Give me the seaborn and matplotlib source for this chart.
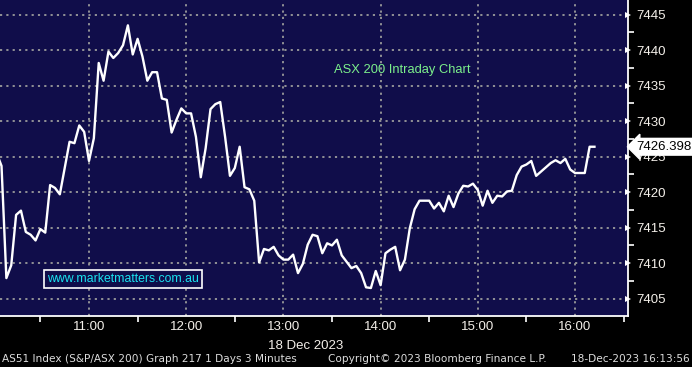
import matplotlib
matplotlib.use("Agg")
import matplotlib.pyplot as plt
import matplotlib.transforms as mtransforms
from matplotlib.ticker import MultipleLocator, FixedLocator
import numpy as np
import pandas as pd
import seaborn as sns

# ---------------- data ----------------
start_time = "2023-12-18 10:03"
bar_minutes = 3
values = [
    7425.5, 7423.7, 7407.9, 7409.7, 7416.8, 7417.4, 7414.4, 7414.0, 7413.2, 7414.8,
    7414.3, 7421.0, 7420.6, 7419.7, 7423.4, 7427.1, 7426.9, 7429.4, 7428.5, 7424.4,
    7427.6, 7438.2, 7435.7, 7439.8, 7438.9, 7439.6, 7440.7, 7443.5, 7439.4, 7441.6,
    7439.1, 7435.7, 7436.9, 7436.9, 7433.2, 7433.0, 7428.4, 7430.2, 7431.8, 7431.1,
    7431.1, 7427.8, 7422.1, 7426.2, 7431.7, 7432.4, 7432.7, 7427.8, 7422.3, 7423.4,
    7426.4, 7420.7, 7420.4, 7418.8, 7410.1, 7412.0, 7411.8, 7412.3, 7411.1, 7410.5,
    7410.5, 7411.2, 7408.6, 7409.9, 7412.6, 7414.0, 7413.8, 7411.4, 7412.8, 7412.5,
    7413.3, 7411.1, 7410.2, 7409.3, 7409.6, 7408.6, 7406.6, 7406.5, 7408.9, 7406.9,
    7411.4, 7411.9, 7412.3, 7409.0, 7410.5, 7414.9, 7417.6, 7418.8, 7418.8, 7418.8,
    7417.7, 7418.5, 7417.3, 7419.5, 7417.9, 7419.8, 7420.9, 7420.8, 7421.2, 7420.3,
    7418.1, 7420.2, 7418.5, 7419.5, 7419.4, 7420.1, 7420.2, 7422.4, 7423.6, 7423.9,
    7424.4, 7422.3, 7422.9, 7423.5, 7424.1, 7424.5, 7424.1, 7424.7, 7423.2, 7422.7,
    7422.7, 7422.7, 7426.4, 7426.398,
]
hour_ticks = [11, 12, 13, 14, 15, 16]
hour_labels = ["11:00", "12:00", "13:00", "14:00", "15:00", "16:00"]
y_ticks = [7405, 7410, 7415, 7420, 7425, 7430, 7435, 7440, 7445]
date_label = "18 Dec 2023"
chart_title = "ASX 200 Intraday Chart"
site_label = "www.marketmatters.com.au"
footer_left = "AS51 Index (S&P/ASX 200) Graph 217 1 Days 3 Minutes"
footer_mid = "Copyright\u00a9 2023 Bloomberg Finance L.P."
footer_right = "18-Dec-2023 16:13:56"

stamps = pd.date_range(start_time, periods=len(values), freq=f"{bar_minutes}min")
df = pd.DataFrame({"hour": stamps.hour + stamps.minute / 60.0, "value": values})

# ---------------- style ----------------
BG = "#100d4a"
GRID = "#9b9b9b"
TXT = "#f4f0ea"
FONT = "Liberation Sans"

fig = plt.figure(figsize=(6.92, 3.67), dpi=100, facecolor="black")
ax = fig.add_axes([0.0, 1 - 315.7 / 367, 628 / 692, 315.7 / 367])
ax.set_facecolor(BG)

sns.lineplot(data=df, x="hour", y="value", ax=ax, color="white", lw=1.7, zorder=3)

ax.set_xlim(10.0844, 16.545)
ax.set_ylim(7402.6, 7447.07)

ax.xaxis.set_major_locator(FixedLocator(hour_ticks))
ax.set_xticklabels(hour_labels)
ax.xaxis.set_minor_locator(MultipleLocator(0.5))
ax.yaxis.set_major_locator(FixedLocator(y_ticks))
ax.yaxis.set_minor_locator(MultipleLocator(2.5))
ax.yaxis.tick_right()
ax.set_xlabel("")
ax.set_ylabel("")

for s in ["left", "top"]:
    ax.spines[s].set_visible(False)
for s in ["right", "bottom"]:
    ax.spines[s].set_color("white")
    ax.spines[s].set_linewidth(1.3)

ax.grid(True, which="major", color=GRID, linestyle=(0, (1.2, 2.3)), linewidth=1.3)
ax.tick_params(axis="x", which="major", length=0, pad=4, labelcolor=TXT, labelsize=9.5)
ax.tick_params(axis="x", which="minor", length=4, width=1.2, color="white")
ax.tick_params(axis="y", which="major", length=0, pad=6, labelcolor=TXT, labelsize=9.5)
ax.tick_params(axis="y", which="minor", length=4, width=1.2, color="white")
for lab in ax.get_xticklabels() + ax.get_yticklabels():
    lab.set_fontfamily(FONT)

# triangle markers for major y ticks
ytrans = mtransforms.blended_transform_factory(ax.transAxes, ax.transData)
ax.plot([1.0] * len(y_ticks), y_ticks, linestyle="none", marker=">", markersize=5,
        color="white", transform=ytrans, clip_on=False, zorder=4,
        markeredgewidth=0)

# date below 13:00
xtrans = mtransforms.blended_transform_factory(ax.transData, ax.transAxes)
ax.annotate(date_label, xy=(hour_ticks[2], 0), xycoords=xtrans,
            xytext=(-11, -26), textcoords="offset points", ha="left", va="bottom",
            color=TXT, fontsize=9.5, fontfamily=FONT, annotation_clip=False)

# title text
ax.text(334 / 628, 1 - 70 / 315.7, chart_title, transform=ax.transAxes,
        color="#7cf08c", fontsize=9.3, fontfamily=FONT, ha="left", va="center")

# site box
ax.text(47 / 628, 1 - 279 / 315.7, site_label, transform=ax.transAxes,
        color="#19e3f0", fontsize=8.8, fontfamily=FONT, ha="left", va="center",
        bbox=dict(boxstyle="square,pad=0.25", facecolor=BG, edgecolor="white", lw=1.2),
        zorder=5)

# last value box
ax.annotate(f"{values[-1]:.3f}", xy=(1.0, values[-1]), xycoords=ytrans,
            xytext=(6, 0), textcoords="offset points", ha="left", va="center",
            color="black", fontsize=9.5, fontfamily=FONT, annotation_clip=False,
            bbox=dict(boxstyle="larrow,pad=0.18", facecolor="white", edgecolor="white"),
            zorder=6)

# footer
fig.text(2 / 692, 1 - 359 / 367, footer_left, color="#dcdcdc", fontsize=7.6,
         fontfamily="DejaVu Sans", ha="left", va="center")
fig.text(328 / 692, 1 - 359 / 367, footer_mid, color="#dcdcdc", fontsize=7.6,
         fontfamily="DejaVu Sans", ha="left", va="center")
fig.text(690 / 692, 1 - 359 / 367, footer_right, color="#dcdcdc", fontsize=7.6,
         fontfamily="DejaVu Sans", ha="right", va="center")

fig.savefig("out.png", dpi=100, facecolor="black")
